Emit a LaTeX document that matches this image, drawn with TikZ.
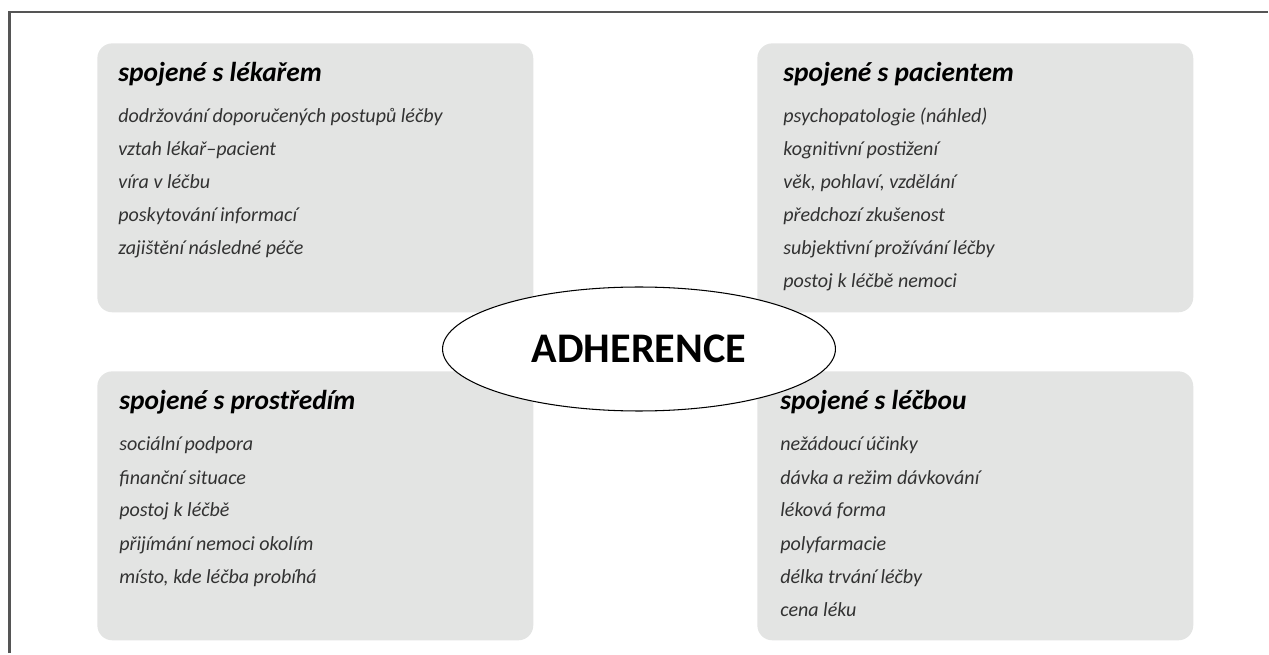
\documentclass[tikz,border=0pt]{standalone}
\usepackage{fontspec}
\setmainfont{Carlito}
\usetikzlibrary{shapes.geometric}

\definecolor{panelgray}{RGB}{227,228,227}
\definecolor{framegray}{RGB}{85,85,85}
\definecolor{itemgray}{RGB}{50,50,50}

\begin{document}
\begin{tikzpicture}[x=0.02cm, y=-0.02cm,
      panel/.style={fill=panelgray, rounded corners=8.5pt, inner sep=0pt,
                    minimum width=8.72cm, minimum height=5.38cm, anchor=north west},
      heading/.style={anchor=base west, inner sep=0pt,
                      font=\fontsize{15.6}{17}\selectfont\bfseries\itshape},
      item/.style={anchor=base west, inner sep=0pt, text=itemgray,
                   font=\fontsize{11.4}{13}\selectfont\itshape},
      core/.style={ellipse, draw, line width=0.6pt, fill=white, inner sep=0pt,
                   minimum width=7.86cm, minimum height=2.48cm,
                   font=\fontsize{24}{26}\selectfont\bfseries}]

    \useasboundingbox (0,0) rectangle (1269,655);
    \draw[framegray, line width=1.4pt] (9.5,653) -- (9.5,12) -- (1268,12);

    % four groups of factors
    \node[panel] (doc) at (97,43)   {};
    \node[panel] (pat) at (757,43)  {};
    \node[panel] (env) at (97,371)  {};
    \node[panel] (trt) at (757,371) {};

    \node[heading] (docT) at (118,82) {spojené s lékařem};
    \foreach \t [count=\i] in {dodržování doporučených postupů léčby,
        vztah lékař–pacient, víra v léčbu, poskytování informací,
        zajištění následné péče}
      \node[item] (doc-\i) at (118,90+33*\i) {\t};

    \node[heading] (patT) at (783,82) {spojené s pacientem};
    \foreach \t [count=\i] in {psychopatologie (náhled),
        kognitivní postižení, {věk, pohlaví, vzdělání},
        předchozí zkušenost, subjektivní prožívání léčby,
        postoj k léčbě nemoci}
      \node[item] (pat-\i) at (783,90+33*\i) {\t};

    \node[heading] (envT) at (119,410) {spojené s prostředím};
    \foreach \t [count=\i] in {sociální podpora, finanční situace,
        postoj k léčbě, přijímání nemoci okolím,
        {místo, kde léčba probíhá}}
      \node[item] (env-\i) at (119,418+33*\i) {\t};

    \node[heading] (trtT) at (780,410) {spojené s léčbou};
    \foreach \t [count=\i] in {nežádoucí účinky, dávka a režim dávkování,
        léková forma, polyfarmacie, délka trvání léčby, cena léku}
      \node[item] (trt-\i) at (780,418+33*\i) {\t};

    \node[core] (adh) at (639,349) {ADHERENCE};
\end{tikzpicture}
\end{document}
